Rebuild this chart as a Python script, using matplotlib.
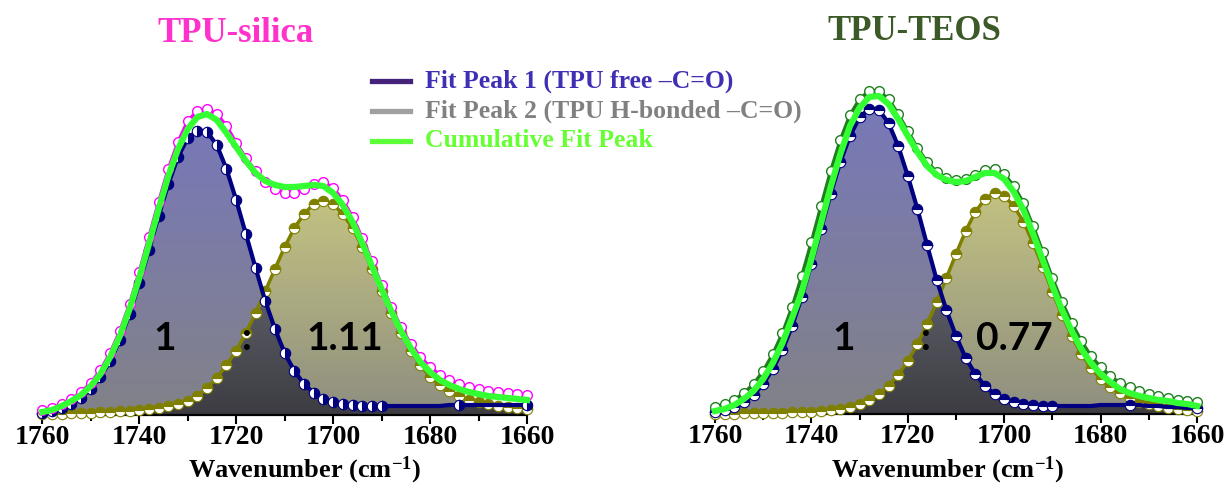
import numpy as np
import matplotlib
matplotlib.use("Agg")
import matplotlib.pyplot as plt
from matplotlib.colors import LinearSegmentedColormap
from matplotlib.lines import Line2D
from matplotlib.ticker import MultipleLocator

# ---------------- data ----------------
wavenumber = [1760, 1758, 1756, 1754, 1752, 1750, 1748, 1746, 1744, 1742,
              1740, 1738, 1736, 1734, 1732, 1730, 1728, 1726, 1724, 1722,
              1720, 1718, 1716, 1714, 1712, 1710, 1708, 1706, 1704, 1702,
              1700, 1698, 1696, 1694, 1692, 1690, 1688, 1686, 1684, 1682,
              1680, 1678, 1676, 1674, 1672, 1670, 1668, 1666, 1664, 1662, 1660]

# TPU-silica
silica_spectrum = [5, 7, 11, 16, 23, 32, 45, 62, 84, 111,
                   143, 178, 213, 246, 273, 294, 304, 306, 301, 289,
                   272, 257, 244, 233, 226, 222, 222, 226, 231, 233,
                   227, 215, 198, 177, 154, 130, 108, 88, 71, 58,
                   48, 40, 35, 31, 28, 26, 24, 23, 22, 21, 20]
silica_peak1 = [2, 4, 7, 11, 17, 26, 38, 54, 75, 101,
                132, 165, 199, 231, 258, 277, 284, 283, 270, 246,
                215, 181, 147, 114, 86, 62, 44, 31, 22, 16,
                13, 11, 10, 9, 9, 9, 9, 9, 9, 9,
                9, 9, 10, 10, 10, 10, 10, 10, 10, 10, 10]
silica_peak2 = [1, 1, 1, 2, 2, 2, 3, 3, 4, 4,
                5, 6, 7, 9, 11, 14, 19, 27, 37, 50,
                64, 82, 102, 124, 146, 168, 187, 201, 211, 214,
                211, 201, 187, 168, 146, 124, 102, 82, 64, 50,
                38, 30, 24, 19, 15, 13, 11, 9, 8, 7, 6]
silica_cumulative = [3, 5, 9, 14, 20, 29, 41, 58, 79, 106,
                     137, 171, 206, 239, 266, 286, 298, 301, 295, 282,
                     268, 254, 242, 234, 230, 228, 228, 229, 230, 229,
                     222, 210, 193, 172, 149, 126, 104, 84, 67, 53,
                     43, 35, 30, 26, 23, 21, 19, 18, 17, 16, 15]

# TPU-TEOS
teos_spectrum = [7, 10, 14, 21, 30, 43, 60, 81, 107, 138,
                 172, 208, 243, 274, 299, 315, 323, 323, 315, 300,
                 283, 266, 252, 242, 236, 234, 235, 239, 244, 245,
                 240, 228, 211, 188, 162, 136, 112, 91, 73, 58,
                 47, 38, 31, 27, 23, 20, 18, 16, 14, 13, 12]
teos_peak1 = [2, 4, 7, 12, 19, 30, 45, 64, 88, 117,
              150, 185, 220, 252, 278, 297, 305, 304, 291, 268,
              238, 205, 169, 134, 104, 78, 56, 40, 28, 20,
              15, 12, 10, 9, 8, 8, 8, 8, 8, 8,
              9, 9, 9, 9, 9, 8, 8, 7, 7, 6, 6]
teos_peak2 = [0, 0, 0, 1, 1, 1, 1, 1, 2, 2,
              2, 3, 4, 5, 7, 10, 14, 20, 28, 39,
              53, 70, 90, 112, 136, 160, 183, 202, 215, 221,
              218, 208, 192, 171, 147, 122, 99, 78, 60, 46,
              35, 27, 21, 16, 12, 10, 8, 6, 5, 4, 3]
teos_cumulative = [3, 5, 9, 15, 23, 35, 51, 71, 96, 122,
                   155, 191, 227, 260, 288, 306, 317, 318, 310, 295,
                   278, 262, 248, 239, 234, 232, 233, 237, 241, 241,
                   235, 222, 204, 180, 154, 128, 104, 83, 65, 51,
                   40, 32, 25, 21, 18, 16, 14, 13, 11, 10, 8]

titles = ["TPU-silica", "TPU-TEOS"]
ratio_silica = ["1", ":", "1.11"]
ratio_teos = ["1", ":", "0.77"]
xticks = [1760, 1740, 1720, 1700, 1680, 1660]
legend_labels = ["Fit Peak 1 (TPU free \u2013C=O)",
                 "Fit Peak 2 (TPU H-bonded \u2013C=O)",
                 "Cumulative Fit Peak"]

# ---------------- style ----------------
W, H, DPI = 1228, 484, 100
plt.rcParams["font.family"] = ["Liberation Serif", "DejaVu Serif"]
plt.rcParams["font.weight"] = "bold"
plt.rcParams["mathtext.fontset"] = "custom"
plt.rcParams["mathtext.rm"] = "Liberation Serif:bold"
plt.rcParams["mathtext.it"] = "Liberation Serif:bold"
plt.rcParams["mathtext.bf"] = "Liberation Serif:bold"

NAVY = "#000080"
OLIVE = "#808000"
GREEN = "#33FF33"


def fx(px):
    return px / W


def fy(py):
    return 1 - py / H


fig = plt.figure(figsize=(W / DPI, H / DPI), dpi=DPI)


def gradient_fill(ax, x, ylow, yhigh, c_top, c_bot, ytop, z):
    poly = ax.fill_between(x, ylow, yhigh, facecolor="none", edgecolor="none",
                           zorder=z)
    cmap = LinearSegmentedColormap.from_list("g", [c_bot, c_top])
    grad = np.linspace(0, 1, 256).reshape(-1, 1)
    im = ax.imshow(grad, cmap=cmap, aspect="auto", origin="lower",
                   extent=[1760, 1660, 0, ytop], zorder=z,
                   interpolation="bilinear")
    im.set_clip_path(poly.get_paths()[0], transform=ax.transData)


def panel(rect, spec, p1, p2, cum, spec_color, p1_fill):
    ax = fig.add_axes(rect)
    x = np.array(wavenumber)
    p1 = np.array(p1)
    p2 = np.array(p2)
    gradient_fill(ax, x, 0, p1, "#7878B8", "#828288", max(p1), 1)
    gradient_fill(ax, x, 0, p2, "#C2C282", "#8E8E80", max(p2), 1.2)
    overlap = np.minimum(p1, p2)
    gradient_fill(ax, x, 0, overlap, "#5A5A64", "#3C3C42", max(overlap), 1.4)

    ax.plot(x, p2, color=OLIVE, lw=2.5, marker="o", ms=7.5, fillstyle="top",
            mfc=OLIVE, markerfacecoloralt="white", mec=OLIVE, mew=0.8,
            zorder=3, clip_on=False)
    mk = list(range(36)) + [43, 50]
    ax.plot(x, p1, color=NAVY, lw=3, marker="o", ms=7.5, fillstyle=p1_fill,
            mfc=NAVY, markerfacecoloralt="white", mec=NAVY, mew=0.8,
            markevery=mk, zorder=4, clip_on=False)
    ax.plot(x, spec, color=spec_color, lw=2.5, marker="o", ms=7, mfc="white",
            mec=spec_color, mew=1.0, zorder=5, clip_on=False)
    ax.plot(x, cum, color=GREEN, lw=4.5, zorder=6, clip_on=False)

    ax.set_xlim(1760, 1660)
    ax.set_ylim(0, 350)
    ax.set_xticks(xticks)
    ax.xaxis.set_minor_locator(MultipleLocator(10))
    ax.set_yticks([])
    for s in ("left", "right", "top"):
        ax.spines[s].set_visible(False)
    ax.spines["bottom"].set_linewidth(1.6)
    ax.tick_params(axis="x", which="major", direction="out", length=6.5,
                   width=1.5, pad=1, labelsize=20)
    ax.tick_params(axis="x", which="minor", direction="out", length=4,
                   width=1.5)
    ax.patch.set_alpha(0)
    return ax


panel([fx(42.3), 1 - 415 / H, (527 - 42.3) / W, 350 / H],
      silica_spectrum, silica_peak1, silica_peak2, silica_cumulative,
      "#FF00FF", "right")
panel([fx(715), 1 - 414 / H, (1197 - 715) / W, 350 / H],
      teos_spectrum, teos_peak1, teos_peak2, teos_cumulative,
      "#1F7F1F", "top")

# titles
fig.text(fx(236), fy(42), titles[0], color="#FF33CC", fontsize=25,
         ha="center", va="baseline")
fig.text(fx(914), fy(40), titles[1], color="#3C5A28", fontsize=25,
         ha="center", va="baseline")

# x labels
for x0 in (188, 831):
    fig.text(fx(x0), fy(477), "Wavenumber (cm$^{-1}$)", fontsize=19,
             ha="left", va="baseline")

# ratio labels
sans = dict(family=["Lato", "DejaVu Sans"], weight="bold", fontsize=28,
            va="baseline", color="black")
fig.text(fx(165), fy(350), ratio_silica[0], ha="center", **sans)
fig.text(fx(247), fy(350), ratio_silica[1], ha="center", **sans)
fig.text(fx(306), fy(350), ratio_silica[2], ha="left", **sans)
fig.text(fx(844), fy(350), ratio_teos[0], ha="center", **sans)
fig.text(fx(926), fy(350), ratio_teos[1], ha="center", **sans)
fig.text(fx(976), fy(350), ratio_teos[2], ha="left", **sans)

# legend (drawn manually)
handle_colors = ["#46237A", "#A0A0A0", "#5CFF3A"]
text_colors = ["#3F2FB5", "#808080", "#66FF33"]
for i, (lab, hc, tc) in enumerate(zip(legend_labels, handle_colors, text_colors)):
    yh = 80.7 + 30 * i
    fig.add_artist(Line2D([fx(372), fx(410)], [fy(yh), fy(yh)], color=hc,
                          lw=3.8, transform=fig.transFigure))
    fig.text(fx(425), fy(yh + 6.5), lab, color=tc, fontsize=18.5,
             ha="left", va="baseline")

fig.savefig("out.png", dpi=DPI)
